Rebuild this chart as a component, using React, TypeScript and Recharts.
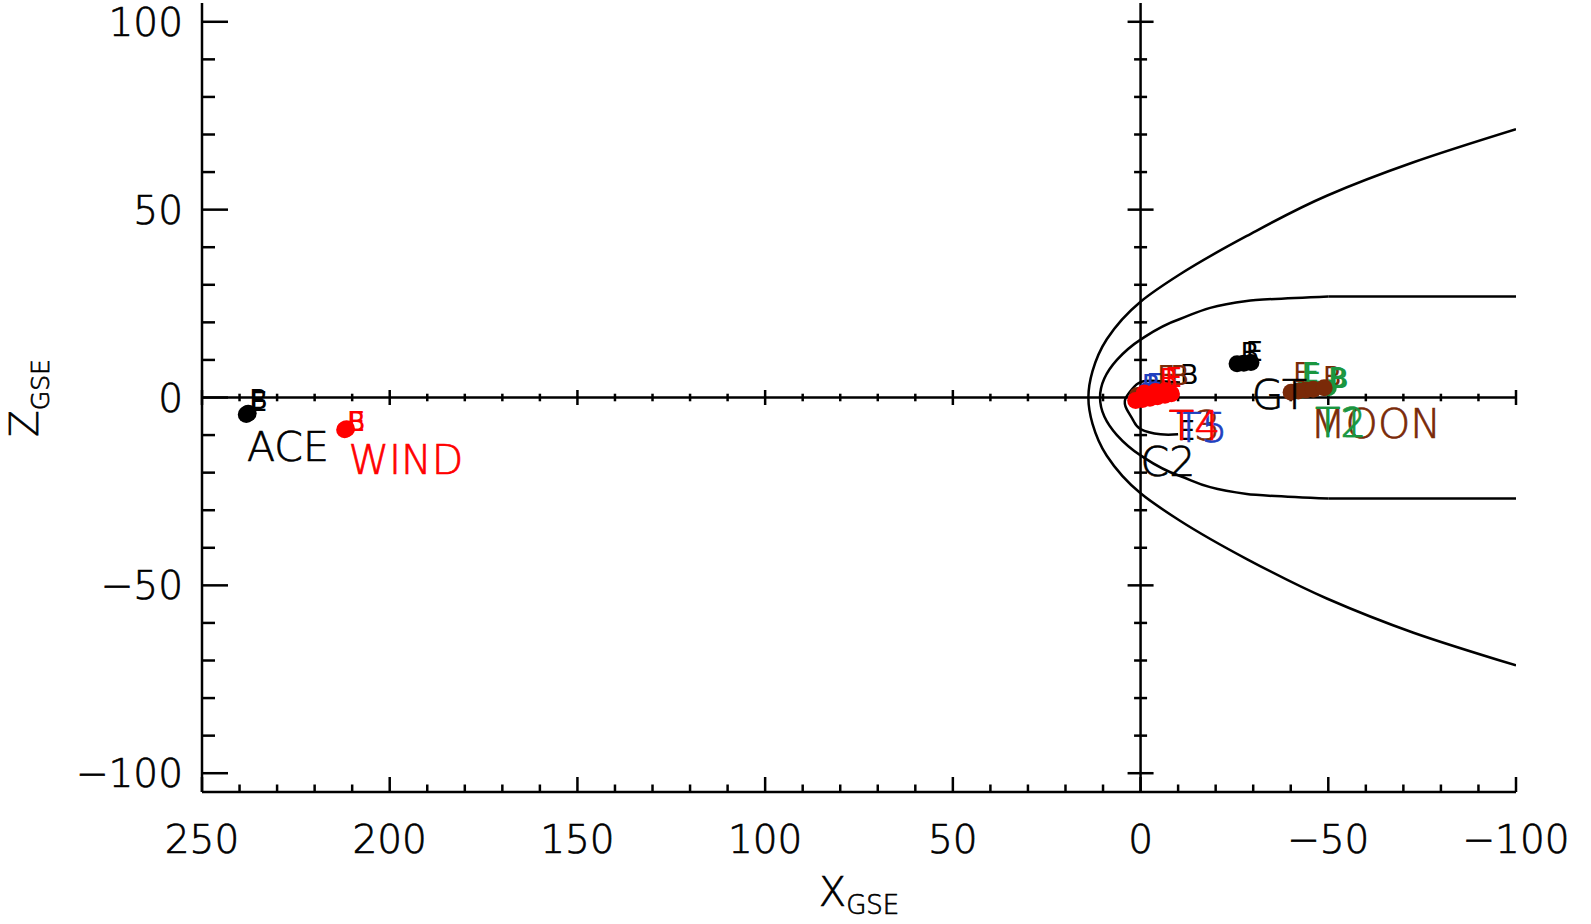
import { ComposedChart, Scatter, XAxis, YAxis, ReferenceLine, ReferenceDot } from 'recharts'

const FONT = '"DejaVu Sans", sans-serif'
const FW = 200
const TSW = 0.7
const BLACK = '#000000'
const RED = '#ff0000'
const BLUE = '#2040c0'
const BROWN = '#7a2a08'
const GREEN = '#1a9640'
const SW = 2.5

// axis ticks (every 10 Re, labels every 50)
const xTicks = [250, 240, 230, 220, 210, 200, 190, 180, 170, 160, 150, 140, 130, 120, 110, 100,
  90, 80, 70, 60, 50, 40, 30, 20, 10, 0, -10, -20, -30, -40, -50, -60, -70, -80, -90, -100]
const zTicks = [100, 90, 80, 70, 60, 50, 40, 30, 20, 10, 0, -10, -20, -30, -40, -50, -60, -70, -80, -90, -100]

// boundaries
const bowShock = [
  { x: -100, z: 71.4 }, { x: -72.7, z: 62.6 }, { x: -49.6, z: 53.7 }, { x: -28.3, z: 43.0 },
  { x: -10.5, z: 32.8 }, { x: 0, z: 25.5 }, { x: 9, z: 15.5 }, { x: 12.8, z: 7 }, { x: 13.9, z: 0 },
  { x: 12.8, z: -7 }, { x: 9, z: -15.5 }, { x: 0, z: -25.5 }, { x: -10.5, z: -32.8 },
  { x: -28.3, z: -43.0 }, { x: -49.6, z: -53.5 }, { x: -72.7, z: -62.6 }, { x: -100, z: -71.3 },
]
const mpUpperTail = [{ x: -100, z: 26.9 }, { x: -50, z: 26.9 }]
const mpNose = [
  { x: -50, z: 26.9 }, { x: -28.3, z: 25.7 }, { x: -10.5, z: 20.9 }, { x: 0, z: 15.4 },
  { x: 6.3, z: 10 }, { x: 10.8, z: 0 }, { x: 6.3, z: -10 }, { x: 0, z: -15.4 },
  { x: -10.5, z: -20.9 }, { x: -28.3, z: -25.7 }, { x: -50, z: -26.9 },
]
const mpLowerTail = [{ x: -50, z: -26.9 }, { x: -100, z: -26.9 }]
const c2Orbit = [
  { x: -10.5, z: 4.0 }, { x: -4.3, z: 4.4 }, { x: 0, z: 4.1 }, { x: 2.3, z: 2.2 },
  { x: 4.1, z: -0.5 }, { x: 3.7, z: -3.1 }, { x: 2, z: -6 }, { x: 0, z: -8.4 },
  { x: -5.3, z: -9.8 }, { x: -10, z: -9.8 },
]

// spacecraft tracks
const aceTrack = [{ x: 238.2, z: -4.5 }, { x: 237.7, z: -4.2 }]
const windTrack = [{ x: 212.0, z: -8.6 }, { x: 211.5, z: -8.3 }]
const gtTrack = [{ x: -25.7, z: 9.0 }, { x: -27.5, z: 9.1 }, { x: -29.4, z: 9.3 }]
const t3Track = [{ x: 0.8, z: 0.5 }, { x: -5.0, z: 1.8 }]
const t5Track = [{ x: -1.5, z: 1.7 }, { x: -3.5, z: 2.0 }]
const t4Track = [
  { x: 1.3, z: -0.8 }, { x: -0.5, z: -0.5 }, { x: -2.5, z: -0.2 }, { x: -4.5, z: 0.2 },
  { x: -6.5, z: 0.6 }, { x: -8.2, z: 1.0 }, { x: -1, z: 1.2 }, { x: -4, z: 1.6 }, { x: -6.5, z: 1.8 },
]
const t12Track = [{ x: -43, z: 2.0 }, { x: -50, z: 2.6 }]
const moonTrack = [
  { x: -40.1, z: 1.4 }, { x: -42, z: 1.7 }, { x: -44, z: 2.0 }, { x: -46, z: 2.2 }, { x: -48.9, z: 2.6 },
]

// begin / end markers
const blackMarks = [
  { x: 237.4, z: -3.1, text: 'B' }, { x: 237.2, z: -3.6, text: 'E' },
  { x: -26.6, z: 9.4, text: 'B' }, { x: -28.0, z: 9.6, text: 'E' },
  { x: -10.5, z: 3.5, text: 'B' }, { x: -10.0, z: -11.2, text: 'E' },
]
const brownMarks = [
  { x: -4.5, z: 3.2, text: 'E' }, { x: -8.0, z: 3.4, text: 'B' },
  { x: -40.7, z: 4.0, text: 'E' }, { x: -48.6, z: 3.0, text: 'B' },
]
const blueMarks = [{ x: -0.3, z: 1.0, text: 'B' }, { x: -1.5, z: 1.3, text: 'E' }]
const redMarks = [
  { x: 211.4, z: -8.9, text: 'B' }, { x: 211.2, z: -8.9, text: 'E' },
  { x: -5.0, z: 2.5, text: 'B' }, { x: -6.5, z: 2.8, text: 'E' },
]
const greenMarks = [
  { x: -42.9, z: 4.1, text: 'E' }, { x: -50.0, z: 2.7, text: 'B' },
  { x: -43.5, z: 3.8, text: 'E' }, { x: -50.5, z: 2.4, text: 'B' },
]

// spacecraft names
const blackNames = [{ x: 238.0, z: -16.9, text: 'ACE' }, { x: -29.6, z: -3.1, text: 'GT' }, { x: 0, z: -20.9, text: 'C2' }]
const redNames = [{ x: 211.0, z: -20.4, text: 'WIND' }]
const brownNames = [{ x: -7.6, z: -11.3, text: 'T3' }, { x: -45.2, z: -10.7, text: 'MOON' }]
const blueNames = [{ x: -9.5, z: -11.9, text: 'T5' }]
const redNames2 = [{ x: -7.6, z: -11.4, text: 'T4' }]
const greenNames = [{ x: -46.5, z: -10.6, text: 'T1' }, { x: -46.5, z: -10.6, text: 'T2' }]

const fmt = (v: number) => (v < 0 ? '\u2212' + Math.abs(v) : String(v))

const BottomTick = (p: any) => {
  const v = p.payload.value
  const major = v % 50 === 0
  return (
    <g>
      <line x1={p.x} x2={p.x} y1={p.y} y2={p.y - (major ? 15 : 7.5)} stroke={BLACK} strokeWidth={SW} />
      {major && (
        <text x={p.x} y={p.y + 61} textAnchor='middle' fontSize={39} fontFamily={FONT} fontWeight={FW}
          fill={BLACK} stroke={BLACK} strokeWidth={TSW}>{fmt(v)}</text>
      )}
    </g>
  )
}
const TopTick = (p: any) => {
  const major = p.payload.value % 50 === 0
  return <line x1={p.x} x2={p.x} y1={p.y} y2={p.y + (major ? 15 : 7.5)} stroke={BLACK} strokeWidth={SW} />
}
const LeftTick = (p: any) => {
  const v = p.payload.value
  const major = v % 50 === 0
  return (
    <g>
      <line x1={p.x} x2={p.x + (major ? 26 : 13)} y1={p.y} y2={p.y} stroke={BLACK} strokeWidth={SW} />
      {major && (
        <text x={p.x - 19} y={p.y + 14} textAnchor='end' fontSize={39} fontFamily={FONT} fontWeight={FW}
          fill={BLACK} stroke={BLACK} strokeWidth={TSW}>{fmt(v)}</text>
      )}
    </g>
  )
}
const RightTick = (p: any) => {
  const major = p.payload.value % 50 === 0
  return <line x1={p.x} x2={p.x - (major ? 26 : 13)} y1={p.y} y2={p.y} stroke={BLACK} strokeWidth={SW} />
}

const dot = (color: string) => (p: any) => <circle cx={p.cx} cy={p.cy} r={8.5} fill={color} />
const label = (color: string, size: number) => (p: any) => (
  <text x={p.cx} y={p.cy} fontSize={size} fontFamily={FONT} fontWeight={FW} fill={color}
    stroke={color} strokeWidth={TSW}>{p.payload.text}</text>
)
const mark = (color: string) => (p: any) => (
  <text x={p.cx} y={p.cy} fontSize={27} fontFamily={FONT} fill={color}>{p.payload.text}</text>
)
const none = () => <g />
const curve = (data: any[], type: any) => (
  <Scatter data={data} line={{ stroke: BLACK, strokeWidth: SW }} stroke={BLACK} strokeWidth={SW}
    lineJointType={type} shape={none} isAnimationActive={false} />
)

export default function App() {
  return (
    <div style={{ position: 'absolute', left: 0, top: 0, background: '#fff' }}>
      <ComposedChart width={1591} height={924} margin={{ top: 3, right: 75, bottom: 0, left: 0 }}>
        <XAxis xAxisId={0} dataKey='x' type='number' domain={[-100, 250]} reversed allowDataOverflow
          ticks={xTicks} interval={0} height={132} tickSize={0} tickMargin={0} tick={BottomTick}
          axisLine={{ stroke: BLACK, strokeWidth: SW }}
          label={{ content: (lp: any) => {
            const vb = lp.viewBox
            return (
              <text x={vb.x + vb.width / 2} y={vb.y + 114} textAnchor='middle' fontSize={40} fontFamily={FONT}
                fontWeight={FW} fill={BLACK} stroke={BLACK} strokeWidth={TSW}>
                <tspan>X</tspan><tspan fontSize={26} dy={8}>GSE</tspan>
              </text>
            )
          } }} />
        <XAxis xAxisId='top' orientation='top' dataKey='x' type='number' domain={[-100, 250]} reversed allowDataOverflow
          ticks={xTicks} interval={0} height={0} tickSize={0} tickMargin={0} tick={TopTick}
          axisLine={{ stroke: BLACK, strokeWidth: SW }} />
        <YAxis yAxisId={0} dataKey='z' type='number' domain={[-105, 105]} allowDataOverflow
          ticks={zTicks} interval={0} width={202} tickSize={0} tickMargin={0} tick={LeftTick}
          axisLine={{ stroke: BLACK, strokeWidth: SW }}
          label={{ content: () => (
            <text transform='rotate(-90, 38, 398)' x={38} y={398} textAnchor='middle' fontSize={39} fontFamily={FONT}
              fontWeight={FW} fill={BLACK} stroke={BLACK} strokeWidth={TSW}>
              <tspan>Z</tspan><tspan fontSize={25} dy={11}>GSE</tspan>
            </text>
          ) }} />
        <YAxis yAxisId='right' orientation='right' dataKey='z' type='number' domain={[-105, 105]} allowDataOverflow
          ticks={zTicks} interval={0} width={0} tickSize={0} tickMargin={0} tick={RightTick}
          axisLine={{ stroke: BLACK, strokeWidth: SW }} />

        <ReferenceLine x={0} stroke={BLACK} strokeWidth={SW} />
        <ReferenceLine y={0} stroke={BLACK} strokeWidth={SW} />
        {xTicks.filter(v => v !== 0).map(v => (
          <ReferenceDot key={'xt' + v} x={v} y={0} r={0} ifOverflow='visible'
            shape={(p: any) => {
              const h = v % 50 === 0 ? 7.5 : 3.8
              return <line x1={p.cx} x2={p.cx} y1={p.cy - h} y2={p.cy + h} stroke={BLACK} strokeWidth={SW} />
            }} />
        ))}
        {zTicks.filter(v => v !== 0).map(v => (
          <ReferenceDot key={'zt' + v} x={0} y={v} r={0} ifOverflow='visible'
            shape={(p: any) => {
              const w = v % 50 === 0 ? 13 : 6.5
              return <line x1={p.cx - w} x2={p.cx + w} y1={p.cy} y2={p.cy} stroke={BLACK} strokeWidth={SW} />
            }} />
        ))}

        {curve(bowShock, 'monotoneY')}
        {curve(mpUpperTail, 'linear')}
        {curve(mpNose, 'monotoneY')}
        {curve(mpLowerTail, 'linear')}
        {curve(c2Orbit, 'natural')}

        <Scatter data={aceTrack} shape={dot(BLACK)} isAnimationActive={false} />
        <Scatter data={windTrack} shape={dot(RED)} isAnimationActive={false} />
        <Scatter data={gtTrack} shape={dot(BLACK)} isAnimationActive={false} />
        <Scatter data={t3Track} shape={dot(BROWN)} isAnimationActive={false} />
        <Scatter data={t5Track} shape={dot(BLUE)} isAnimationActive={false} />
        <Scatter data={t12Track} shape={dot(GREEN)} isAnimationActive={false} />

        <Scatter data={blackMarks} shape={mark(BLACK)} isAnimationActive={false} />
        <Scatter data={blueMarks} shape={mark(BLUE)} isAnimationActive={false} />
        <Scatter data={brownMarks} shape={mark(BROWN)} isAnimationActive={false} />
        <Scatter data={greenMarks} shape={mark(GREEN)} isAnimationActive={false} />
        <Scatter data={redMarks} shape={mark(RED)} isAnimationActive={false} />

        <Scatter data={t4Track} shape={dot(RED)} isAnimationActive={false} />
        <Scatter data={moonTrack} shape={dot(BROWN)} isAnimationActive={false} />

        <Scatter data={blackNames} shape={label(BLACK, 41)} isAnimationActive={false} />
        <Scatter data={brownNames} shape={label(BROWN, 41)} isAnimationActive={false} />
        <Scatter data={blueNames} shape={label(BLUE, 41)} isAnimationActive={false} />
        <Scatter data={redNames} shape={label(RED, 41)} isAnimationActive={false} />
        <Scatter data={redNames2} shape={label(RED, 41)} isAnimationActive={false} />
        <Scatter data={greenNames} shape={label(GREEN, 41)} isAnimationActive={false} />
      </ComposedChart>
    </div>
  )
}
